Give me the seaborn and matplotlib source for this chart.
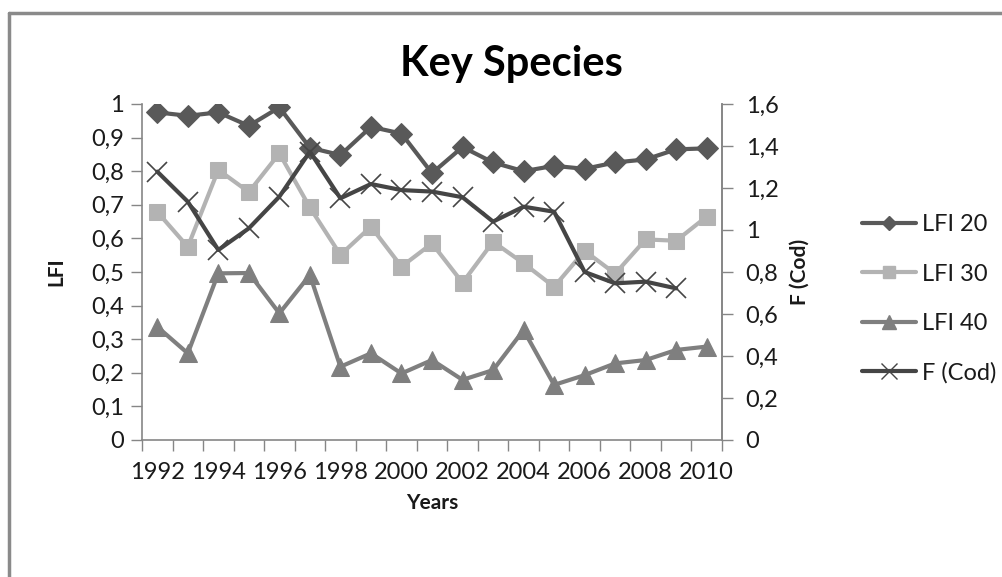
import numpy as np
import pandas as pd
import matplotlib
matplotlib.use("Agg")
import matplotlib.pyplot as plt
from matplotlib.ticker import FuncFormatter, MultipleLocator, FixedLocator
from matplotlib.lines import Line2D
import seaborn as sns

# data
years = list(range(1992, 2011))
lfi_20 = [0.975, 0.965, 0.975, 0.935, 0.99, 0.87, 0.848, 0.932, 0.912, 0.794, 0.872,
          0.826, 0.80, 0.816, 0.807, 0.826, 0.835, 0.865, 0.868]
lfi_30 = [0.679, 0.575, 0.804, 0.738, 0.853, 0.692, 0.551, 0.635, 0.516, 0.585, 0.468,
          0.59, 0.526, 0.456, 0.563, 0.495, 0.597, 0.593, 0.665]
lfi_40 = [0.337, 0.258, 0.496, 0.497, 0.377, 0.491, 0.218, 0.258, 0.198, 0.238, 0.179,
          0.208, 0.327, 0.164, 0.193, 0.228, 0.238, 0.268, 0.278]
f_cod_years = list(range(1992, 2010))
f_cod = [1.278, 1.135, 0.905, 1.008, 1.159, 1.373, 1.151, 1.219, 1.19, 1.183, 1.156,
         1.04, 1.111, 1.087, 0.80, 0.746, 0.754, 0.722]

series_names = ["LFI 20", "LFI 30", "LFI 40", "F (Cod)"]

sns.set_style("white")
plt.rcParams['font.family'] = ['Lato', 'DejaVu Sans']

AX_GRAY = "#868686"
TXT = "#1a1a1a"
C20, C30, C40, CF = "#595959", "#b3b3b3", "#7f7f7f", "#454545"

fig = plt.figure(figsize=(10.02, 5.77), dpi=100)
ax = fig.add_axes([142 / 1002, 1 - 440 / 577, 580 / 1002, 336 / 577])
ax2 = ax.twinx()

sns.lineplot(x=years, y=lfi_20, ax=ax, color=C20, lw=3, marker="D", markersize=11,
             markeredgecolor=C20)
sns.lineplot(x=years, y=lfi_30, ax=ax, color=C30, lw=3, marker="s", markersize=12,
             markeredgecolor=C30)
sns.lineplot(x=years, y=lfi_40, ax=ax, color=C40, lw=3, marker="^", markersize=13,
             markeredgecolor=C40)
sns.lineplot(x=f_cod_years, y=f_cod, ax=ax2, color=CF, lw=3, marker="x", markersize=14,
             markeredgewidth=1.2, markeredgecolor=CF)

ax.set_xlim(1991.5, 2010.5)
ax.set_ylim(0, 1)
ax2.set_ylim(0, 1.6)

comma = FuncFormatter(lambda v, p: ("%g" % round(v, 2)).replace(".", ","))
ax.yaxis.set_major_locator(MultipleLocator(0.1))
ax.yaxis.set_major_formatter(comma)
ax2.yaxis.set_major_locator(MultipleLocator(0.2))
ax2.yaxis.set_major_formatter(comma)

ax.xaxis.set_major_locator(FixedLocator(years[::2]))
ax.xaxis.set_major_formatter(FuncFormatter(lambda v, p: str(int(round(v)))))
ax.xaxis.set_minor_locator(FixedLocator(np.arange(1991.5, 2011, 1.0)))

for a in (ax, ax2):
    for s in a.spines.values():
        s.set_color(AX_GRAY)
        s.set_linewidth(1.2)
    a.spines["top"].set_visible(False)
    a.grid(False)
ax2.spines["left"].set_visible(False)
ax2.spines["bottom"].set_visible(False)

ax.tick_params(axis="y", which="major", direction="out", length=8, width=1, color=AX_GRAY,
               labelsize=17, labelcolor=TXT, pad=5, left=True)
ax2.tick_params(axis="y", which="major", direction="out", length=8, width=1, color=AX_GRAY,
                labelsize=17, labelcolor=TXT, pad=9, right=True)
ax.tick_params(axis="x", which="major", length=0, labelsize=17, labelcolor=TXT, pad=16)
ax.tick_params(axis="x", which="minor", direction="out", length=8, width=1, color=AX_GRAY,
               bottom=True)

ax.set_ylabel("LFI", fontsize=15, fontweight="bold", labelpad=18, color=TXT)
ax2.set_ylabel("F (Cod)", fontsize=15, fontweight="bold", labelpad=8, color=TXT)
ax.set_xlabel("Years", fontsize=15, fontweight="bold", labelpad=7, color=TXT)

fig.text(511 / 1002, 1 - 64 / 577, "Key Species", ha="center", va="center",
         fontsize=30, fontweight="bold", color="black")

handles = [
    Line2D([], [], color=C20, lw=3, marker="D", markersize=7),
    Line2D([], [], color=C30, lw=3, marker="s", markersize=9),
    Line2D([], [], color=C40, lw=3, marker="^", markersize=10),
    Line2D([], [], color=CF, lw=3, marker="x", markersize=11, markeredgewidth=1),
]
leg = fig.legend(handles, series_names, loc="center left",
                 bbox_to_anchor=(850 / 1002, 1 - 299 / 577), frameon=False, fontsize=17,
                 labelspacing=1.2, handlelength=2.3, handletextpad=0.25, borderpad=0)
for t in leg.get_texts():
    t.set_color(TXT)

# outer chart border (top and left visible)
fig.add_artist(Line2D([9 / 1002, 1.0], [1 - 13 / 577, 1 - 13 / 577],
                      transform=fig.transFigure, color="#8a8a8a", lw=2.5))
fig.add_artist(Line2D([9 / 1002, 9 / 1002], [0, 1 - 13 / 577],
                      transform=fig.transFigure, color="#8a8a8a", lw=2.5))

fig.savefig("out.png", dpi=100)
